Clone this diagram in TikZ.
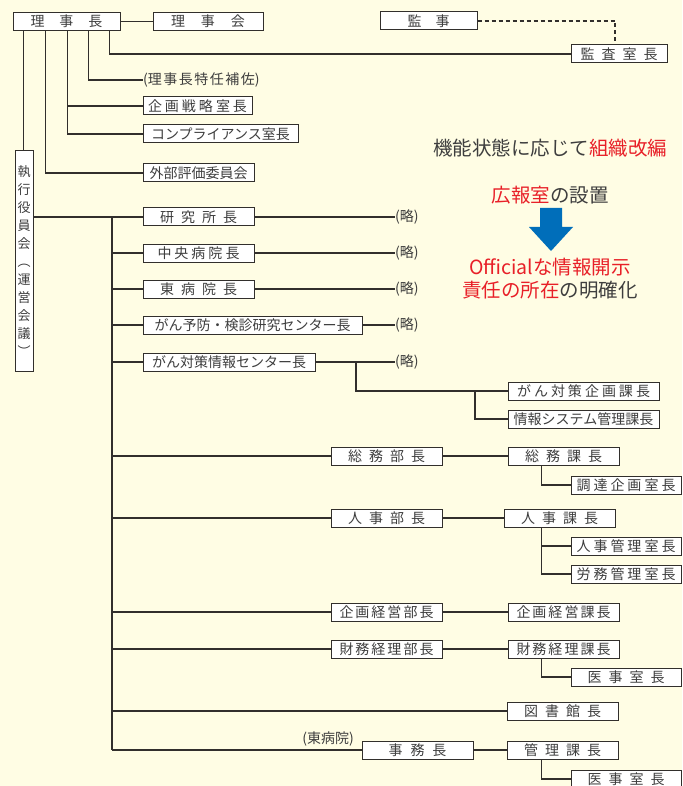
\documentclass[tikz,border=0pt]{standalone}
\usepackage{fontspec}
\setmainfont{Noto Sans CJK JP}
\definecolor{bgc}{RGB}{255,253,228}
\definecolor{lnc}{RGB}{50,47,44}
\definecolor{txc}{RGB}{62,62,62}
\definecolor{rdc}{RGB}{232,32,40}
\definecolor{blc}{RGB}{0,110,186}
\newcommand\spc[1]{\hspace{#1pt}}
\begin{document}
\begin{tikzpicture}[x=1pt,y=-1pt,
  bx/.style={draw=lnc,line width=1pt,fill=white,inner sep=0pt,minimum height=18pt,text=txc,font=\fontsize{14}{14}\selectfont},
  conn/.style={draw=lnc,line width=1.2pt},
  note/.style={text=txc,inner sep=0pt,font=\fontsize{14}{14}\selectfont},
  big/.style={inner sep=0pt,text=txc,font=\fontsize{19.5}{22}\selectfont}]
\fill[bgc] (0,0) rectangle (682,786);
\useasboundingbox (0,0) rectangle (682,786);

% top level
\node[bx,minimum width=107pt] (rijicho) at (66.5,21.5) {理\spc{15}事\spc{15}長};
\node[bx,minimum width=110pt] (rijikai) at (208,21.5) {理\spc{16}事\spc{16}会};
\node[bx,minimum width=97pt] (kanji) at (428.5,21) {監\spc{14}事};
\node[bx,minimum width=96pt] (kansa) at (619,54) {監\spc7査\spc7室\spc7長};
\node[note,anchor=west] (tokunin) at (143,80) {(理\spc{1.5}事\spc{1.5}長\spc{1.5}特\spc{1.5}任\spc{1.5}補\spc{1.5}佐)};
\node[bx,minimum width=109pt] (kikaku) at (197.5,106) {企\spc{3}画\spc{3}戦\spc{3}略\spc{3}室\spc{3}長};
\node[bx,minimum width=155pt] (comp) at (220.5,134) {コンプライアンス室長};
\node[bx,minimum width=111pt] (gaibu) at (198.5,173) {外部評価委員会};
\node[bx,minimum width=18pt,minimum height=220pt,align=center,font=\fontsize{13}{18}\selectfont] (shikko) at (24,261)
  {執\\行\\役\\員\\会\\︵\\運\\営\\会\\議\\︶};

\draw[conn] (rijicho.east) -- (rijikai.west);
\coordinate (v1) at ([xshift=11pt]rijicho.south west);
\coordinate (v2) at ([xshift=33pt]rijicho.south west);
\coordinate (v3) at ([xshift=55pt]rijicho.south west);
\coordinate (v4) at ([xshift=76pt]rijicho.south west);
\coordinate (v5) at ([xshift=97pt]rijicho.south west);
\draw[conn] (v1) -- (v1 |- shikko.north);
\draw[conn] (v2) |- (gaibu.west);
\draw[conn] (v3) |- (comp.west);
\draw[conn] (v3 |- kikaku.west) -- (kikaku.west);
\draw[conn] (v4) |- (tokunin.west);
\draw[conn] (v5) |- (kansa.west);
\draw[conn,line width=1.1pt,dash pattern=on 4pt off 3pt] (kanji.east) -| ([xshift=-4pt]kansa.north);

% research / hospitals
\node[bx,minimum width=111pt] (kenkyu) at (198.5,217) {研\spc7究\spc7所\spc7長};
\node[bx,minimum width=111pt] (chuo) at (198.5,253) {中\spc3央\spc3病\spc3院\spc3長};
\node[bx,minimum width=111pt] (higashi) at (198.5,289) {東\spc7病\spc7院\spc7長};
\node[bx,minimum width=219pt] (yobo) at (252.5,325) {がん予防・検診研究センター長};
\node[bx,minimum width=172pt] (taisaku) at (229,362) {がん対策情報センター長};
\node[note,anchor=west] (r1) at (395,217) {(略)};
\node[note,anchor=west] (r2) at (395,253) {(略)};
\node[note,anchor=west] (r3) at (395,289) {(略)};
\node[note,anchor=west] (r4) at (395,325) {(略)};
\node[note,anchor=west] (r5) at (395,362) {(略)};
\node[bx,minimum width=151pt] (tkikaku) at (583.5,391) {が\spc3ん\spc3対\spc3策\spc3企\spc3画\spc3課\spc3長};
\node[bx,minimum width=151pt] (jsys) at (583.5,419) {情報システム管理課長};

% administration
\node[bx,minimum width=111pt] (somubu) at (386.5,456) {総\spc7務\spc7部\spc7長};
\node[bx,minimum width=111pt] (somuka) at (563.5,456) {総\spc7務\spc7課\spc7長};
\node[bx,minimum width=110pt] (chotatsu) at (626,485) {調\spc3達\spc3企\spc3画\spc3室\spc3長};
\node[bx,minimum width=111pt] (jinjibu) at (386.5,518) {人\spc7事\spc7部\spc7長};
\node[bx,minimum width=111pt] (jinjika) at (559.5,518) {人\spc7事\spc7課\spc7長};
\node[bx,minimum width=110pt] (jinjikanri) at (626,546) {人\spc3事\spc3管\spc3理\spc3室\spc3長};
\node[bx,minimum width=110pt] (romu) at (626,574) {労\spc3務\spc3管\spc3理\spc3室\spc3長};
\node[bx,minimum width=111pt] (kikakubu) at (386.5,612) {企\spc2画\spc2経\spc2営\spc2部\spc2長};
\node[bx,minimum width=111pt] (kikakuka) at (563.5,612) {企\spc2画\spc2経\spc2営\spc2課\spc2長};
\node[bx,minimum width=111pt] (zaimubu) at (386.5,649) {財\spc2務\spc2経\spc2理\spc2部\spc2長};
\node[bx,minimum width=111pt] (zaimuka) at (563.5,649) {財\spc2務\spc2経\spc2理\spc2課\spc2長};
\node[bx,minimum width=110pt] (iji1) at (626,677) {医\spc7事\spc7室\spc7長};
\node[bx,minimum width=111pt] (tosho) at (562.5,711) {図\spc7書\spc7館\spc7長};
\node[bx,minimum width=111pt] (jimu) at (417.5,750) {事\spc8務\spc8長};
\node[bx,minimum width=111pt] (kanri) at (562.5,750) {管\spc7理\spc7課\spc7長};
\node[bx,minimum width=110pt] (iji2) at (626,779) {医\spc7事\spc7室\spc7長};
\node[note] (higa) at (328,739) {(東病院)};

% trunk
\draw[conn] (shikko.east |- kenkyu.west) -- (kenkyu.west);
\coordinate (tt) at (112,217);
\draw[conn] (tt) -- (tt |- jimu.west);
\foreach \n in {chuo,higashi,yobo,taisaku,somubu,jinjibu,kikakubu,zaimubu,tosho,jimu}
  \draw[conn] (tt |- \n.west) -- (\n.west);
\draw[conn] (kenkyu.east) -- (r1.west);
\draw[conn] (chuo.east) -- (r2.west);
\draw[conn] (higashi.east) -- (r3.west);
\draw[conn] (yobo.east) -- (r4.west);
\draw[conn] (taisaku.east) -- (r5.west);
\coordinate (t1) at (356,362);
\coordinate (t2) at (475,391);
\draw[conn] (t1) |- (tkikaku.west);
\draw[conn] (t2) |- (jsys.west);

\draw[conn] (somubu.east) -- (somuka.west);
\draw[conn] ([xshift=34pt]somuka.south west) |- (chotatsu.west);
\draw[conn] (jinjibu.east) -- (jinjika.west);
\coordinate (j1) at ([xshift=38pt]jinjika.south west);
\draw[conn] (j1) |- (romu.west);
\draw[conn] (j1 |- jinjikanri.west) -- (jinjikanri.west);
\draw[conn] (kikakubu.east) -- (kikakuka.west);
\draw[conn] (zaimubu.east) -- (zaimuka.west);
\draw[conn] ([xshift=34pt]zaimuka.south west) |- (iji1.west);
\draw[conn] (jimu.east) -- (kanri.west);
\draw[conn] ([xshift=35pt]kanri.south west) |- (iji2.west);

% right side notes
\node[big,anchor=west] (kinou) at (433,148) {機能状態に応じて\textcolor{rdc}{組織改編}};
\node[big] (koho) at (550,195) {\textcolor{rdc}{広報室}の設置};
\fill[blc] (540,208) -- (562,208) -- (562,227) -- (573,227) -- (551,251) -- (529,227) -- (540,227) -- cycle;
\node[big,text=rdc] (off) at (550,267) {Officialな情報開示};
\node[big] (seki) at (550,290) {\textcolor{rdc}{責任の所在}の明確化};
\end{tikzpicture}
\end{document}
